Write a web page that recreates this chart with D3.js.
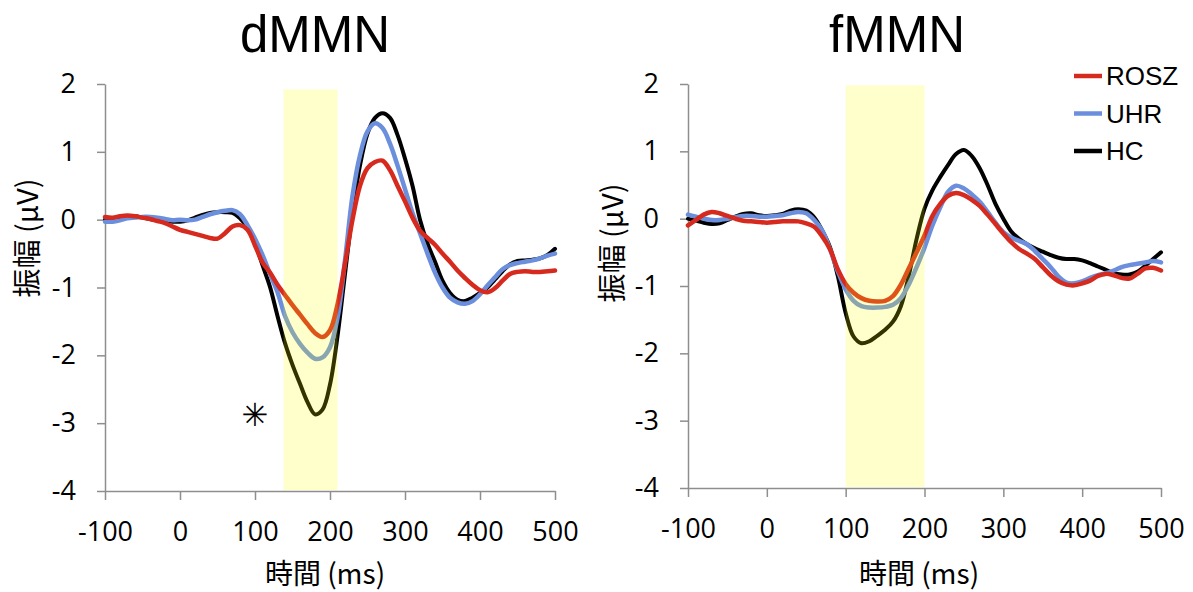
<!DOCTYPE html>
<html>
<head>
<meta charset="utf-8">
<script src="https://cdn.jsdelivr.net/npm/d3@7"></script>
<style>
  body { margin: 0; background: #fff; }
</style>
</head>
<body>
<div id="chart"></div>
<script>
// time axis shared by every curve (ms)
const TIME_MS = [-100, -90, -80, -70, -60, -50, -40, -30, -20, -10,
  0, 10, 20, 30, 40, 50, 60, 70, 80, 90,
  100, 110, 120, 130, 140, 150, 160, 170, 180, 190,
  200, 210, 220, 230, 240, 250, 260, 270, 280, 290,
  300, 310, 320, 330, 340, 350, 360, 370, 380, 390,
  400, 410, 420, 430, 440, 450, 460, 470, 480, 490, 500];

const GROUPS = ["ROSZ", "UHR", "HC"];
const GROUP_COLORS = {ROSZ: "#d62a1e", UHR: "#6b8fdc", HC: "#000000"};

// dMMN amplitudes (uV)
const DMMN_ROSZ = [0.04, 0.03, 0.05, 0.06, 0.05, 0.03, 0.01, -0.02, -0.05, -0.1,
  -0.15, -0.18, -0.21, -0.24, -0.27, -0.28, -0.2, -0.1, -0.08, -0.15,
  -0.38, -0.63, -0.78, -0.96, -1.11, -1.26, -1.4, -1.54, -1.67, -1.73,
  -1.63, -1.25, -0.65, 0.0, 0.5, 0.76, 0.85, 0.87, 0.73, 0.5,
  0.27, 0.03, -0.16, -0.27, -0.37, -0.5, -0.62, -0.75, -0.86, -0.96,
  -1.04, -1.07, -1.01, -0.9, -0.8, -0.77, -0.76, -0.77, -0.77, -0.76, -0.75];
const DMMN_UHR = [-0.03, -0.03, -0.01, 0.02, 0.03, 0.04, 0.04, 0.03, 0.01, -0.01,
  0.0, -0.01, 0.0, 0.04, 0.08, 0.11, 0.13, 0.14, 0.08, -0.08,
  -0.28, -0.52, -0.8, -1.07, -1.42, -1.66, -1.83, -1.96, -2.05, -2.03,
  -1.88, -1.45, -0.6, 0.35, 0.95, 1.3, 1.42, 1.35, 1.12, 0.8,
  0.45, 0.1, -0.2, -0.5, -0.78, -1.0, -1.15, -1.22, -1.24, -1.2,
  -1.1, -0.97, -0.85, -0.73, -0.67, -0.64, -0.62, -0.6, -0.57, -0.53, -0.5];
const DMMN_HC = [0.0, 0.01, 0.03, 0.05, 0.05, 0.03, 0.01, -0.01, -0.02, -0.03,
  -0.03, -0.01, 0.03, 0.07, 0.1, 0.11, 0.11, 0.1, 0.02, -0.12,
  -0.35, -0.67, -0.99, -1.42, -1.82, -2.14, -2.42, -2.69, -2.87, -2.8,
  -2.43, -1.72, -0.8, 0.1, 0.8, 1.27, 1.5, 1.57, 1.5, 1.25,
  0.9, 0.5, 0.0, -0.35, -0.62, -0.9, -1.08, -1.18, -1.2, -1.15,
  -1.08, -1.0, -0.88, -0.76, -0.66, -0.61, -0.6, -0.59, -0.57, -0.52, -0.43];

// fMMN amplitudes (uV)
const FMMN_ROSZ = [-0.1, -0.02, 0.06, 0.1, 0.08, 0.04, 0.0, -0.03, -0.04, -0.05,
  -0.06, -0.05, -0.04, -0.04, -0.04, -0.07, -0.12, -0.26, -0.45, -0.75,
  -0.97, -1.1, -1.18, -1.22, -1.23, -1.22, -1.15, -0.98, -0.74, -0.5,
  -0.25, 0.04, 0.22, 0.34, 0.38, 0.35, 0.28, 0.19, 0.06, -0.08,
  -0.22, -0.35, -0.45, -0.52, -0.6, -0.72, -0.84, -0.93, -0.98, -0.99,
  -0.96, -0.92, -0.85, -0.82, -0.84, -0.88, -0.89, -0.82, -0.74, -0.73, -0.77];
const FMMN_UHR = [0.06, 0.03, 0.0, -0.02, -0.02, 0.0, 0.02, 0.04, 0.04, 0.03,
  0.03, 0.04, 0.05, 0.08, 0.1, 0.08, -0.02, -0.17, -0.45, -0.78,
  -1.05, -1.22, -1.3, -1.32, -1.32, -1.31, -1.28, -1.18, -0.98, -0.72,
  -0.43, -0.1, 0.17, 0.4, 0.49, 0.45, 0.36, 0.25, 0.1, -0.06,
  -0.2, -0.28, -0.33, -0.38, -0.48, -0.6, -0.72, -0.86, -0.95, -0.96,
  -0.93, -0.88, -0.84, -0.81, -0.77, -0.72, -0.69, -0.67, -0.65, -0.63, -0.65];
const FMMN_HC = [0.0, -0.03, -0.06, -0.08, -0.07, -0.02, 0.03, 0.07, 0.08, 0.05,
  0.04, 0.05, 0.07, 0.12, 0.14, 0.12, 0.02, -0.17, -0.42, -0.85,
  -1.4, -1.75, -1.85, -1.82, -1.74, -1.65, -1.53, -1.3, -0.85, -0.3,
  0.15, 0.42, 0.62, 0.8, 0.96, 1.02, 0.93, 0.75, 0.5, 0.22,
  0.0, -0.19, -0.3, -0.38, -0.44, -0.49, -0.54, -0.58, -0.6, -0.6,
  -0.62, -0.66, -0.71, -0.76, -0.81, -0.83, -0.83, -0.79, -0.7, -0.6, -0.5];

const X_TICKS = [-100, 0, 100, 200, 300, 400, 500];
const Y_TICKS = [2, 1, 0, -1, -2, -3, -4];

// shaded analysis window [start ms, end ms, top uV]
const DMMN_WINDOW = [138, 210, 1.92];
const FMMN_WINDOW = [100, 200, 1.98];

const width = 1193, height = 592;

const svg = d3.select("#chart")
  .append("svg")
  .attr("width", width)
  .attr("height", height)
  .style("background", "#fff");

const panels = [
  {title: "dMMN", titleX: 315, left: 105, right: 555, top: 84, bottom: 491,
   yLabelX: 25, yLabelY: 238, xLabelX: 325,
   series: {ROSZ: DMMN_ROSZ, UHR: DMMN_UHR, HC: DMMN_HC}, win: DMMN_WINDOW, star: [100, -2.88]},
  {title: "fMMN", titleX: 897, left: 688, right: 1161, top: 84, bottom: 488,
   yLabelX: 610, yLabelY: 243, xLabelX: 919,
   series: {ROSZ: FMMN_ROSZ, UHR: FMMN_UHR, HC: FMMN_HC}, win: FMMN_WINDOW, star: null}
];

panels.forEach(p => drawPanel(p));
drawLegend();

function drawPanel(p) {
  const x = d3.scaleLinear().domain([-100, 500]).range([p.left, p.right]);
  const y = d3.scaleLinear().domain([-4, 2]).range([p.bottom, p.top]);
  const g = svg.append("g");

  // title
  g.append("text")
    .attr("x", p.titleX)
    .attr("y", 52)
    .attr("text-anchor", "middle")
    .style("font-family", "'Liberation Sans', Arial, sans-serif")
    .style("font-size", "51px")
    .text(p.title);

  // axes (plain hyphen labels, no decimals)
  const fmt = d => String(d);
  const yAxis = g.append("g")
    .attr("transform", "translate(" + p.left + ",0)")
    .call(d3.axisLeft(y).tickValues(Y_TICKS).tickFormat(fmt)
      .tickSize(8).tickSizeOuter(0).tickPadding(21));
  const xAxis = g.append("g")
    .attr("transform", "translate(0," + p.bottom + ")")
    .call(d3.axisBottom(x).tickValues(X_TICKS).tickFormat(fmt)
      .tickSize(9).tickSizeOuter(0).tickPadding(22));

  [yAxis, xAxis].forEach(a => {
    a.selectAll("path, line").attr("stroke", "#8e8e8e").attr("stroke-width", 1.5);
    a.selectAll("text")
      .attr("fill", "#000")
      .style("font-family", "'Open Sans', sans-serif")
      .style("font-size", "27px");
  });

  // curves, HC under UHR under ROSZ
  const line = d3.line()
    .x((d, i) => x(TIME_MS[i]))
    .y(d => y(d))
    .curve(d3.curveCatmullRom.alpha(0.5));

  ["HC", "UHR", "ROSZ"].forEach(name => {
    g.append("path")
      .datum(p.series[name])
      .attr("fill", "none")
      .attr("stroke", GROUP_COLORS[name])
      .attr("stroke-width", name === "HC" ? 4 : 4.5)
      .attr("stroke-linejoin", "round")
      .attr("stroke-linecap", "round")
      .attr("d", line);
  });

  // translucent yellow window drawn over the curves
  g.append("rect")
    .attr("x", x(p.win[0]))
    .attr("y", y(p.win[2]))
    .attr("width", x(p.win[1]) - x(p.win[0]))
    .attr("height", y(-4) - y(p.win[2]) - 1)
    .attr("fill", "#ffff00")
    .attr("opacity", 0.2);

  if (p.star) {
    g.append("text")
      .attr("x", x(p.star[0]))
      .attr("y", y(p.star[1]))
      .attr("text-anchor", "middle")
      .attr("dominant-baseline", "central")
      .style("font-family", "'DejaVu Sans', sans-serif")
      .style("font-size", "32px")
      .text("\u2733");
  }

  // axis titles
  g.append("text")
    .attr("x", p.xLabelX)
    .attr("y", 584)
    .attr("text-anchor", "middle")
    .style("font-family", "'Noto Sans CJK JP', sans-serif")
    .style("font-size", "28px")
    .text("時間 (ms)");

  g.append("text")
    .attr("transform", "translate(" + p.yLabelX + "," + p.yLabelY + ") rotate(-90)")
    .attr("text-anchor", "middle")
    .attr("dominant-baseline", "central")
    .style("font-family", "'Noto Sans CJK JP', sans-serif")
    .style("font-size", "29px")
    .text("振幅 (μV)");
}

function drawLegend() {
  const lg = svg.append("g").attr("transform", "translate(1074,76)");
  GROUPS.forEach((name, i) => {
    const row = lg.append("g").attr("transform", "translate(0," + (i * 37.5) + ")");
    row.append("line")
      .attr("x1", 0).attr("x2", 28)
      .attr("stroke", GROUP_COLORS[name])
      .attr("stroke-width", 4.5);
    row.append("text")
      .attr("x", 32)
      .attr("dominant-baseline", "central")
      .style("font-family", "'Liberation Sans', Arial, sans-serif")
      .style("font-size", "26px")
      .text(name);
  });
}
</script>
</body>
</html>
